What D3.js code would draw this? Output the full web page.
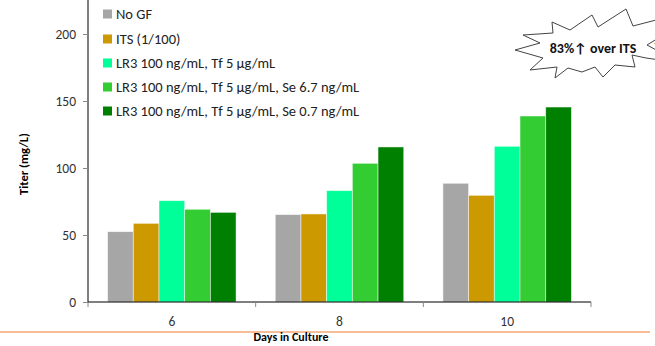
<!DOCTYPE html>
<html><head><meta charset="utf-8">
<script src="https://cdn.jsdelivr.net/npm/d3@7"></script>
<style>body{margin:0;background:#fff}svg{display:block}text{font-family:Carlito,Lato,"Open Sans",sans-serif}</style>
</head><body><svg id="c" width="655" height="346"></svg>
<script>
const days = ["6", "8", "10"];
const seriesNames = ["No GF", "ITS (1/100)", "LR3 100 ng/mL, Tf 5 µg/mL", "LR3 100 ng/mL, Tf 5 µg/mL, Se 6.7 ng/mL", "LR3 100 ng/mL, Tf 5 µg/mL, Se 0.7 ng/mL"];
const noGF = [52.5, 65.2, 88.6];
const its = [58.7, 65.7, 79.6];
const lr3Tf = [75.6, 83.1, 116.2];
const lr3TfSe67 = [69.2, 103.5, 138.8];
const lr3TfSe07 = [66.9, 115.7, 145.5];
const seriesValues = [noGF, its, lr3Tf, lr3TfSe67, lr3TfSe07];
const colors = ["#A6A6A6", "#CC9900", "#00FF99", "#33CC33", "#008000"];
const yTicks = [0, 50, 100, 150, 200];
const calloutText = "83%";

const svg = d3.select("#c");
const L = 88, R = 591, T = 34, B = 302;
const y = d3.scaleLinear().domain([0, 200]).range([B, T]);
const x0 = d3.scaleBand().domain(days).range([L, R]).paddingInner(0).paddingOuter(0);
const x1 = d3.scaleBand().domain(d3.range(seriesNames.length)).range([19.6, x0.bandwidth() - 19.6]).padding(0);

// bars
const g = svg.append("g");
days.forEach((d, i) => {
  seriesValues.forEach((vals, s) => {
    g.append("rect")
      .attr("x", x0(d) + x1(s))
      .attr("y", y(vals[i]))
      .attr("width", x1.bandwidth())
      .attr("height", B - y(vals[i]))
      .attr("fill", colors[s])
      .attr("stroke", "rgba(255,255,255,0.6)")
      .attr("stroke-width", 0.8);
  });
});

// y axis
const yAxis = d3.axisLeft(y).tickValues(yTicks).tickSize(5).tickPadding(7);
const ya = svg.append("g").attr("transform", `translate(${L},0)`).call(yAxis);
ya.select(".domain").attr("d", `M0,0V${B}`).attr("stroke", "#000");
ya.selectAll(".tick line").attr("stroke", "#888");
ya.selectAll(".tick text").attr("font-size", 13.5).attr("fill", "#333").style("font-family", "Carlito,Lato,sans-serif");

// x axis
const xa = svg.append("g").attr("transform", `translate(0,${B})`);
xa.append("line").attr("x1", L).attr("x2", R).attr("y1", 0).attr("y2", 0).attr("stroke", "#000").attr("stroke-width", 1.2);
const bounds = days.map(d => x0(d)).concat([R]);
bounds.forEach(b => xa.append("line").attr("x1", b).attr("x2", b).attr("y1", 0).attr("y2", 5).attr("stroke", "#888"));
days.forEach(d => xa.append("text").attr("x", x0(d) + x0.bandwidth() / 2).attr("y", 24)
  .attr("text-anchor", "middle").attr("font-size", 13.5).attr("fill", "#333").text(d));

// axis titles
svg.append("text").attr("transform", "translate(28,164) rotate(-90)").attr("text-anchor", "middle")
  .attr("font-size", 12.5).attr("font-weight", "bold").attr("fill", "#000").text("Titer (mg/L)");

// orange separator line
svg.append("line").attr("x1", 0).attr("x2", 650).attr("y1", 332).attr("y2", 332).attr("stroke", "#ED7D31").attr("stroke-width", 1.2);
svg.append("text").attr("x", 291).attr("y", 341).attr("text-anchor", "middle")
  .attr("font-size", 12).attr("font-weight", "bold").attr("fill", "#000").text("Days in Culture");

// legend
const legY = [14, 39, 63, 87, 111];
seriesNames.forEach((n, s) => {
  svg.append("rect").attr("x", 103).attr("y", legY[s] - 4.5).attr("width", 9).attr("height", 9).attr("fill", colors[s]);
  svg.append("text").attr("x", 116).attr("y", legY[s] + 5).attr("font-size", 14.5).attr("fill", "#222").text(n);
});

// starburst callout
const star = [[515,50],[540,43],[523,35],[553,33],[552,22],[570,30],[592,15],[598,27],[626,9],[633,26],[660,19],
  [660,60],[646,58],[632,55],[635,67],[615,65],[603,77],[595,67],[582,72],[568,68],[555,78],[557,67],[530,70],[543,58]];
svg.append("path").attr("d", d3.line()(star) + "Z").attr("fill", "#fff").attr("stroke", "#444").attr("stroke-width", 1);
svg.append("text").attr("x", 593).attr("y", 53).attr("text-anchor", "middle").attr("font-size", 14).attr("font-weight", "bold").attr("fill", "#111")
  .text(calloutText + "\u2191 over ITS");
// partial second starburst at right edge
const star2 = [[660,37],[647,45],[660,52]];
svg.append("path").attr("d", d3.line()(star2)).attr("fill", "#fff").attr("stroke", "#444").attr("stroke-width", 1);
svg.append("text").attr("x", 652).attr("y", 50).attr("font-size", 14).attr("font-weight", "bold").attr("fill", "#111").text("\u2191");
</script></body></html>
